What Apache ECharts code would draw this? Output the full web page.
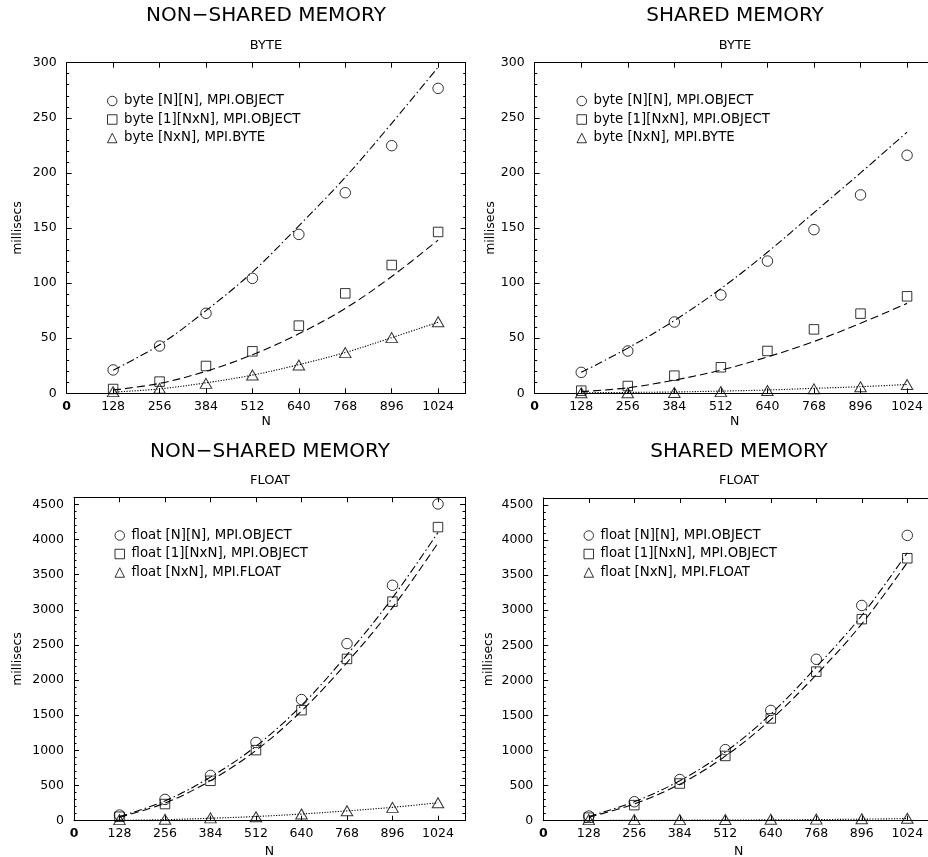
<!DOCTYPE html>
<html>
<head>
<meta charset="utf-8">
<script src="https://cdn.jsdelivr.net/npm/echarts@6/dist/echarts.min.js"></script>
<style>html,body{margin:0;padding:0;background:#fff}#c{width:928px;height:857px}</style>
</head>
<body>
<div id="c"></div>
<script>
// ---------- data ----------
const N = [128, 256, 384, 512, 640, 768, 896, 1024];
const xTickLabels = [0, 128, 256, 384, 512, 640, 768, 896, 1024];
const yTicksByte = [0, 50, 100, 150, 200, 250, 300];
const yTicksFloat = [0, 500, 1000, 1500, 2000, 2500, 3000, 3500, 4000, 4500];

const panelTitles = ['NON\u2212SHARED MEMORY', 'SHARED MEMORY', 'NON\u2212SHARED MEMORY', 'SHARED MEMORY'];
const panelSubtitles = ['BYTE', 'BYTE', 'FLOAT', 'FLOAT'];

const byteNames = ['byte [N][N], MPI.OBJECT', 'byte [1][NxN], MPI.OBJECT', 'byte [NxN], MPI.BYTE'];
const floatNames = ['float [N][N], MPI.OBJECT', 'float [1][NxN], MPI.OBJECT', 'float [NxN], MPI.FLOAT'];

// non-shared byte
const nsByte2D = [21.2, 42.9, 72.6, 104.3, 144.2, 182, 224.7, 276.7];
const nsByte1D = [3.9, 10.6, 24.8, 38.1, 61.4, 90.7, 116.4, 146.4];
const nsByteFlat = [1.5, 4.5, 9, 16.6, 25.7, 36.9, 50.5, 65];
const nsByte2DFit = [21, 44, 75, 110, 152, 196, 245, 296];
const nsByte1DFit = [3, 9, 20, 35, 54, 77, 106, 139];
const nsByteFlatFit = [1, 4, 9.5, 16.5, 26, 37, 50.5, 64.5];

// shared byte
const shByte2D = [19, 38.4, 64.7, 89.2, 120, 148.5, 180, 216];
const shByte1D = [2.4, 6.6, 16, 23.6, 38.4, 58, 72.3, 88];
const shByteFlat = [0.5, 0.5, 0.8, 1.5, 2.5, 4, 6, 8];
const shByte2DFit = [19, 41, 66, 95, 128, 164, 200, 237];
const shByte1DFit = [1.5, 5, 12, 21, 33, 47, 63.5, 81.6];
const shByteFlatFit = [0.5, 0.8, 1.2, 2, 3, 4.5, 6, 8];

// non-shared float
const nsFloat2D = [80, 303, 644, 1113, 1723, 2519, 3348, 4505];
const nsFloat1D = [57, 237, 568, 1004, 1572, 2301, 3116, 4176];
const nsFloatFlat = [15, 20, 40, 57, 95, 142, 190, 256];
const nsFloat2DFit = [60, 280, 620, 1060, 1640, 2360, 3170, 4100];
const nsFloat1DFit = [50, 250, 570, 1000, 1560, 2250, 3030, 3950];
const nsFloatFlatFit = [5, 15, 35, 60, 95, 140, 190, 255];

// shared float
const shFloat2D = [66, 270, 587, 1013, 1572, 2301, 3068, 4067];
const shFloat1D = [43, 222, 530, 923, 1458, 2125, 2873, 3741];
const shFloatFlat = [15, 15, 15, 18, 20, 22, 28, 35];
const shFloat2DFit = [60, 270, 570, 980, 1520, 2190, 2925, 3820];
const shFloat1DFit = [50, 240, 520, 920, 1440, 2080, 2805, 3680];
const shFloatFlatFit = [3, 5, 7, 9, 12, 16, 22, 30];

// ---------- layout ----------
const FONT = 'DejaVu Sans';
const panels = [
  {grid: {left: 66.7, top: 62.7, width: 399, height: 330.6}, ymax: 300, yTicks: yTicksByte, minor: 10,
   names: byteNames, pts: [nsByte2D, nsByte1D, nsByteFlat], fits: [nsByte2DFit, nsByte1DFit, nsByteFlatFit],
   titleX: 266, titleY: 16, subY: 46, nameGapY: 42, nameGapX: 22, legend: {left: 107, top: 94.5}},
  {grid: {left: 534.7, top: 62.7, width: 400, height: 330.6}, ymax: 300, yTicks: yTicksByte, minor: 10,
   names: byteNames, pts: [shByte2D, shByte1D, shByteFlat], fits: [shByte2DFit, shByte1DFit, shByteFlatFit],
   titleX: 735, titleY: 16, subY: 46, nameGapY: 37, nameGapX: 22, legend: {left: 576.5, top: 94.5}},
  {grid: {left: 74, top: 497.3, width: 391, height: 323.4}, ymax: 4600, yTicks: yTicksFloat, minor: 100,
   names: floatNames, pts: [nsFloat2D, nsFloat1D, nsFloatFlat], fits: [nsFloat2DFit, nsFloat1DFit, nsFloatFlatFit],
   titleX: 270, titleY: 452, subY: 481, nameGapY: 50, nameGapX: 25, legend: {left: 114.5, top: 529}},
  {grid: {left: 543.3, top: 498, width: 391, height: 322.7}, ymax: 4600, yTicks: yTicksFloat, minor: 100,
   names: floatNames, pts: [shFloat2D, shFloat1D, shFloatFlat], fits: [shFloat2DFit, shFloat1DFit, shFloatFlatFit],
   titleX: 739, titleY: 452, subY: 481, nameGapY: 48, nameGapX: 25, legend: {left: 583.5, top: 529}}
];

const symbols = [
  {symbol: 'circle', size: 10.5, icon: 'circle'},
  {symbol: 'rect', size: 9.5, icon: 'rect'},
  {symbol: 'triangle', size: [11.5, 10], icon: 'triangle'}
];
const fitStyles = [[8, 3, 1.5, 3], [8, 4], [1.2, 1.5]];

const hollow = {color: 'rgba(0,0,0,0)', borderColor: '#000', borderWidth: 1};
const lineCol = '#000';

const grids = [], xAxes = [], yAxes = [], series = [], titles = [], legends = [];

panels.forEach((p, g) => {
  grids.push(Object.assign({containLabel: false, outerBoundsMode: 'none'}, p.grid));
  const xi = xAxes.length;
  xAxes.push({
    gridIndex: g, type: 'value', min: 0, max: 1100, position: 'bottom',
    axisLine: {show: true, onZero: false, lineStyle: {color: lineCol, width: 1}},
    axisTick: {show: true, inside: true, length: 5, customValues: N, lineStyle: {color: lineCol}},
    axisLabel: {customValues: xTickLabels, margin: 7, color: '#000', fontFamily: FONT, fontSize: 12.5,
      formatter: v => v === 0 ? '{b|0}' : String(v),
      rich: {b: {fontWeight: 'bold', fontFamily: FONT, fontSize: 12.5, color: '#000'}}},
    splitLine: {show: false},
    name: 'N', nameLocation: 'middle', nameGap: p.nameGapX,
    nameTextStyle: {color: '#000', fontFamily: FONT, fontSize: 12.5}
  });
  xAxes.push({
    gridIndex: g, type: 'value', min: 0, max: 1100, position: 'top',
    axisLine: {show: true, onZero: false, lineStyle: {color: lineCol, width: 1}},
    axisTick: {show: true, inside: true, length: 5, customValues: N, lineStyle: {color: lineCol}},
    axisLabel: {show: false}, splitLine: {show: false}
  });
  const yi = yAxes.length;
  const mkY = (pos, major) => ({
    gridIndex: g, type: 'value', min: 0, max: p.ymax, position: pos,
    interval: major ? undefined : p.minor,
    axisLine: {show: major, onZero: false, lineStyle: {color: lineCol, width: 1}},
    axisTick: major
      ? {show: true, inside: true, length: 5, customValues: p.yTicks, lineStyle: {color: lineCol}}
      : {show: true, inside: true, length: 2.5, lineStyle: {color: lineCol}},
    axisLabel: (major && pos === 'left')
      ? {customValues: p.yTicks, margin: 10, color: '#000', fontFamily: FONT, fontSize: 12.5, formatter: v => String(v)}
      : {show: false},
    splitLine: {show: false},
    name: (major && pos === 'left') ? 'millisecs' : '',
    nameLocation: 'middle', nameGap: p.nameGapY,
    nameTextStyle: {color: '#000', fontFamily: FONT, fontSize: 12.5}
  });
  yAxes.push(mkY('left', true), mkY('left', false), mkY('right', true), mkY('right', false));

  // fits
  p.fits.forEach((f, k) => {
    series.push({
      type: 'line', xAxisIndex: xi, yAxisIndex: yi, smooth: 0.35, showSymbol: false, silent: true,
      data: N.map((n, i) => [n, f[i]]),
      lineStyle: {color: lineCol, width: 1.1, type: fitStyles[k]}, z: 2, animation: false
    });
  });
  // points
  p.pts.forEach((d, k) => {
    series.push({
      name: p.names[k], type: 'scatter', xAxisIndex: xi, yAxisIndex: yi,
      symbol: symbols[k].symbol, symbolSize: symbols[k].size,
      data: N.map((n, i) => [n, d[i]]),
      itemStyle: hollow, z: 3, animation: false
    });
  });

  titles.push({text: panelTitles[g], left: p.titleX, top: p.titleY, textAlign: 'center', textVerticalAlign: 'middle', padding: 0,
    textStyle: {fontFamily: FONT, fontSize: 20, fontWeight: 'normal', color: '#000'}});
  titles.push({text: panelSubtitles[g], left: p.titleX, top: p.subY, textAlign: 'center', textVerticalAlign: 'middle', padding: 0,
    textStyle: {fontFamily: FONT, fontSize: 13, fontWeight: 'normal', color: '#000'}});

  legends.push({
    left: p.legend.left, top: p.legend.top, orient: 'vertical', itemWidth: 9.5, itemHeight: 9.5, itemGap: 5.5,
    padding: 0, selectedMode: false,
    textStyle: {fontFamily: FONT, fontSize: 13.3, color: '#000', padding: [0, 0, 0, 2]},
    data: p.names.map((nm, k) => ({name: nm, icon: symbols[k].icon, itemStyle: hollow}))
  });
});

const chart = echarts.init(document.getElementById('c'), null, {renderer: 'canvas'});
chart.setOption({
  backgroundColor: '#fff',
  animation: false,
  title: titles,
  legend: legends,
  grid: grids,
  xAxis: xAxes,
  yAxis: yAxes,
  series: series
});
</script>
</body>
</html>
